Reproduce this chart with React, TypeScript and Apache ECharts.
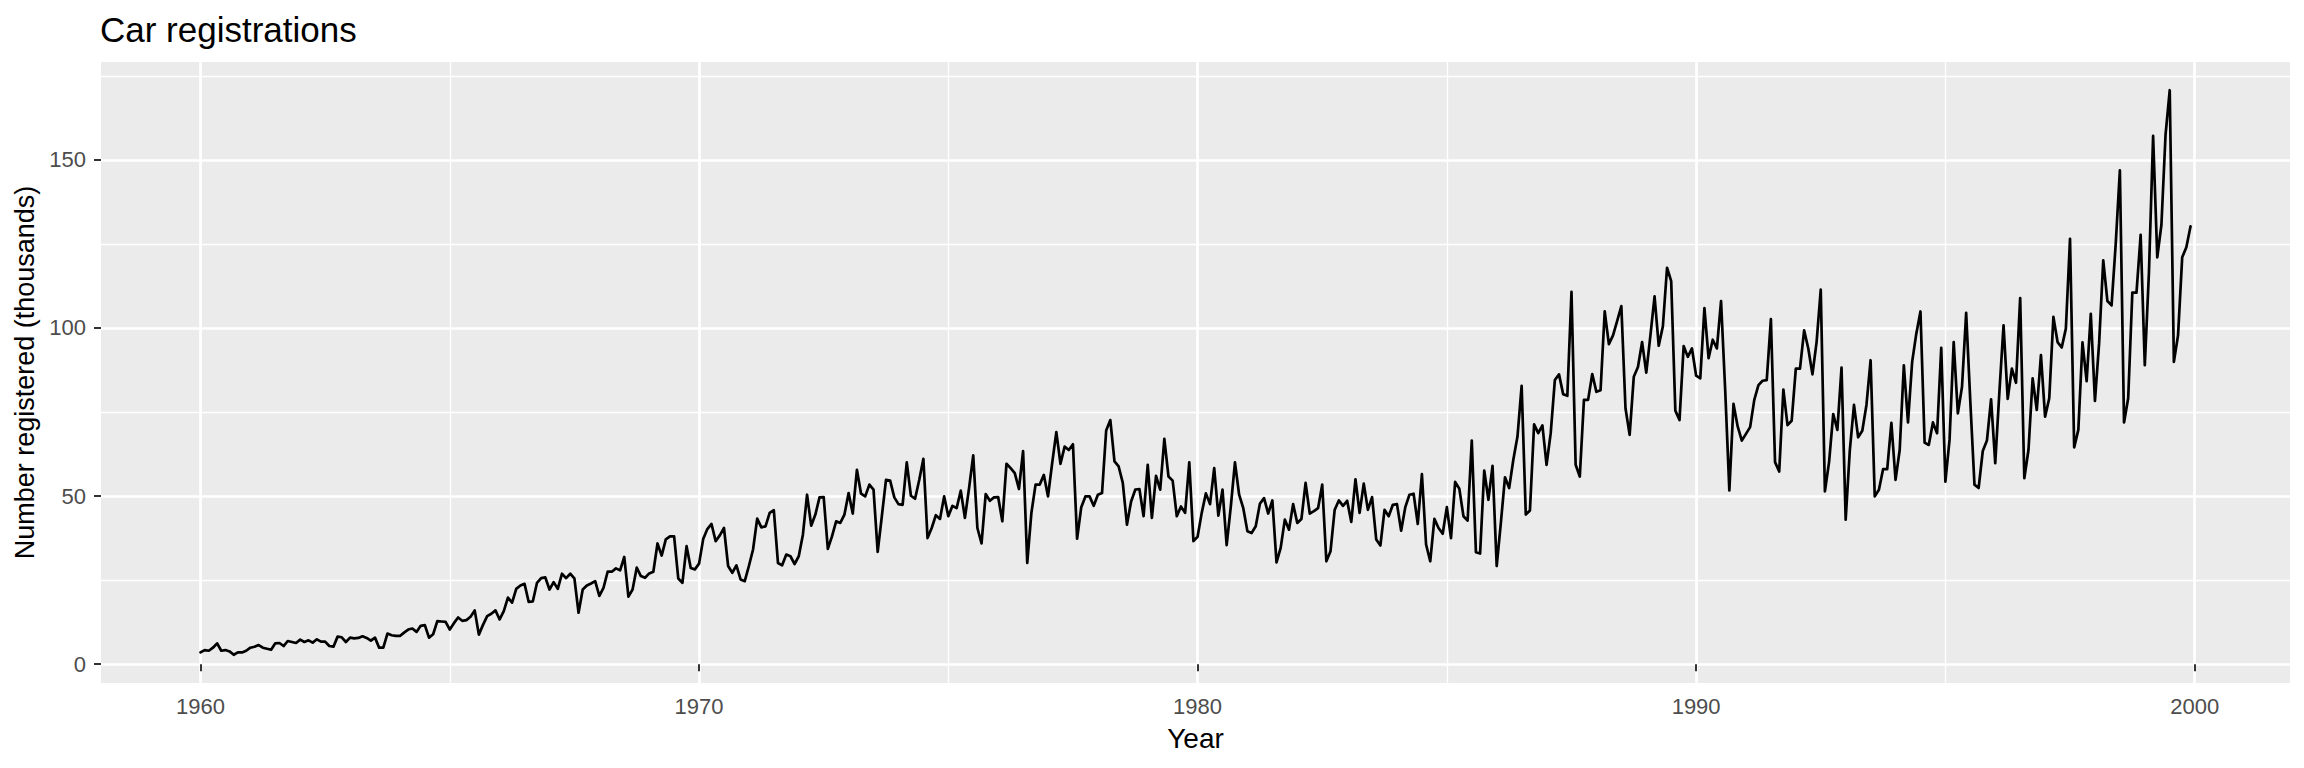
import React, { useEffect, useRef } from "react";
import * as echarts from "echarts";

const chartTitle = "Car registrations";
const xAxisTitle = "Year";
const yAxisTitle = "Number registered (thousands)";
const startYear = 1960;
const periodsPerYear = 12;
const xMajorBreaks = [1960, 1970, 1980, 1990, 2000];
const xMinorBreaks = [1965, 1975, 1985, 1995];
const yMajorBreaks = [0, 50, 100, 150];
const yMinorBreaks = [25, 75, 125, 175];

// Monthly registrations (thousands), January to December for each year
const regs1960s = [
  3.5, 4.2, 4.0, 4.9, 6.2, 4.0, 4.2, 3.8, 2.8, 3.5, 3.5, 4.0,
  4.9, 5.2, 5.7, 4.9, 4.6, 4.3, 6.2, 6.3, 5.4, 6.9, 6.6, 6.3,
  7.3, 6.6, 7.1, 6.4, 7.4, 6.7, 6.7, 5.4, 5.2, 8.2, 8.0, 6.6,
  7.9, 7.7, 7.8, 8.3, 7.8, 7.0, 7.9, 4.9, 4.9, 9.1, 8.6, 8.4,
  8.4, 9.4, 10.3, 10.6, 9.6, 11.4, 11.6, 7.9, 8.9, 12.8, 12.7, 12.6,
  10.3, 12.2, 13.9, 12.9, 13.1, 14.1, 16.0, 8.8, 11.7, 14.3, 15.0, 16.0,
  13.3, 15.8, 19.8, 18.3, 22.4, 23.4, 23.9, 18.5, 18.7, 24.2, 25.6, 25.8,
  22.2, 24.4, 22.4, 26.9, 25.6, 26.9, 25.5, 15.3, 22.2, 23.4, 24.0, 24.7,
  20.3, 22.7, 27.5, 27.5, 28.5, 27.9, 31.9, 20.1, 22.2, 28.7, 26.2, 25.7,
  27.0, 27.5, 35.9, 32.3, 37.1, 38.0, 38.0, 25.5, 24.2, 35.1, 28.6, 28.2,
];

const regs1970s = [
  29.9, 37.2, 40.2, 41.7, 36.6, 38.3, 40.5, 29.2, 27.2, 29.4, 25.2, 24.7,
  29.2, 34.1, 43.3, 40.7, 41.0, 45.0, 45.8, 30.1, 29.4, 32.6, 32.1, 29.8,
  32.1, 38.5, 50.4, 41.2, 44.5, 49.6, 49.7, 34.3, 38.0, 42.5, 42.0, 44.5,
  50.9, 44.8, 57.8, 50.7, 49.9, 53.4, 51.9, 33.4, 44.0, 54.8, 54.6, 49.6,
  47.6, 47.4, 60.0, 50.1, 49.2, 54.8, 61.1, 37.5, 40.5, 44.3, 43.2, 49.9,
  44.0, 47.1, 46.4, 51.6, 43.5, 52.4, 62.1, 40.5, 35.9, 50.6, 48.6, 49.6,
  49.7, 42.5, 59.6, 58.3, 56.8, 52.1, 63.4, 30.1, 45.0, 53.4, 53.4, 56.3,
  49.9, 59.8, 69.0, 59.6, 64.7, 63.7, 65.4, 37.3, 46.7, 49.9, 49.9, 47.1,
  50.4, 50.9, 69.5, 72.6, 60.3, 58.8, 53.9, 41.5, 48.4, 51.9, 52.1, 44.0,
  59.3, 43.5, 56.0, 51.9, 67.0, 55.8, 54.6, 44.0, 46.9, 45.0, 60.0, 36.6,
];

const regs1980s = [
  37.9, 45.0, 50.8, 47.6, 58.3, 44.2, 51.9, 35.4, 46.9, 60.0, 50.4, 46.4,
  39.5, 39.0, 41.0, 47.7, 49.4, 44.8, 48.7, 30.3, 34.6, 43.0, 40.0, 47.6,
  42.0, 43.2, 53.9, 44.8, 45.5, 46.4, 53.4, 30.6, 33.6, 45.9, 48.7, 47.1,
  48.6, 42.3, 55.0, 45.0, 53.7, 45.9, 49.7, 37.1, 35.3, 45.9, 44.0, 47.4,
  47.6, 39.7, 46.7, 50.4, 50.7, 41.7, 56.5, 35.6, 30.6, 43.2, 40.5, 38.8,
  46.7, 37.5, 54.2, 52.2, 44.0, 42.7, 66.5, 33.3, 32.9, 57.6, 48.9, 59.0,
  29.2, 42.0, 55.6, 52.4, 60.8, 67.7, 82.8, 44.5, 45.7, 71.3, 68.7, 71.0,
  59.3, 68.7, 84.5, 86.2, 80.3, 79.8, 110.7, 59.3, 55.8, 78.6, 78.6, 86.3,
  81.0, 81.5, 104.9, 95.2, 97.8, 102.1, 106.5, 76.1, 68.2, 85.5, 88.4, 95.8,
  86.7, 97.8, 109.4, 94.7, 100.5, 117.9, 113.9, 75.4, 72.6, 94.6, 91.4, 93.9,
];

const regs1990s = [
  85.8, 85.0, 105.9, 91.0, 96.5, 93.9, 108.0, 81.5, 51.7, 77.4, 70.7, 66.5,
  68.5, 70.5, 78.6, 83.0, 84.3, 84.5, 102.6, 60.1, 57.3, 81.7, 71.1, 72.4,
  87.9, 87.9, 99.3, 93.9, 86.2, 95.8, 111.4, 51.4, 60.1, 74.4, 69.7, 88.2,
  43.0, 63.7, 77.1, 67.5, 69.4, 77.1, 90.4, 49.9, 51.9, 58.0, 58.0, 71.8,
  54.8, 63.7, 88.9, 71.9, 89.9, 98.3, 104.9, 65.9, 65.2, 71.9, 68.7, 94.1,
  54.3, 66.7, 95.8, 74.6, 82.5, 104.5, 78.1, 53.4, 52.4, 63.4, 66.5, 78.8,
  59.8, 81.0, 100.8, 78.9, 87.9, 83.7, 108.9, 55.3, 63.7, 85.0, 75.6, 91.9,
  73.6, 79.1, 103.3, 95.8, 94.2, 99.8, 126.5, 64.5, 69.7, 95.7, 84.2, 104.2,
  78.3, 95.4, 120.1, 108.0, 106.7, 125.0, 146.9, 71.9, 79.1, 110.5, 110.5, 127.7,
  88.9, 116.6, 157.1, 121.0, 130.7, 157.6, 170.7, 89.9, 97.8, 121.0, 124.0, 130.2,
];

const registrations = [...regs1960s, ...regs1970s, ...regs1980s, ...regs1990s];
const points = registrations.map((v, i) => [startYear + i / periodsPerYear, v]);

// ggplot-style 5% expansion of the data range
function expand(arr: number[]): [number, number] {
  const lo = Math.min(...arr);
  const hi = Math.max(...arr);
  const pad = (hi - lo) * 0.05;
  return [lo - pad, hi + pad];
}
const [xLo, xHi] = expand(points.map((p) => p[0]));
const [yLo, yHi] = expand(registrations);

const FONT = "'Liberation Sans', Arial, Helvetica, sans-serif";
const GRID_BG = "#EBEBEB";
const MAJOR_W = 2.7;
const MINOR_W = 1.35;

export default function App() {
  const ref = useRef<HTMLDivElement>(null);

  useEffect(() => {
    if (!ref.current) return;
    const chart = echarts.init(ref.current, undefined, { renderer: "svg" });
    const option: any = {
      animation: false,
      textStyle: { fontFamily: FONT },
      title: {
        text: chartTitle,
        left: 100,
        top: 12,
        padding: 0,
        textStyle: { fontSize: 35, fontWeight: "normal", color: "#000000", fontFamily: FONT },
      },
      grid: {
        left: 101,
        right: 14,
        top: 62,
        bottom: 85,
        show: true,
        backgroundColor: GRID_BG,
        borderWidth: 0,
        containLabel: false,
      },
      xAxis: [
        {
          type: "value",
          min: xLo,
          max: xHi,
          position: "bottom",
          name: xAxisTitle,
          nameLocation: "middle",
          nameGap: 41,
          nameTextStyle: { fontSize: 28, color: "#000000", fontFamily: FONT },
          axisLine: { show: false },
          axisTick: {
            show: true,
            customValues: xMajorBreaks,
            length: 7,
            lineStyle: { color: "#333333", width: 2 },
          },
          axisLabel: {
            show: true,
            customValues: xMajorBreaks,
            color: "#4D4D4D",
            fontSize: 22,
            margin: 12,
            fontFamily: FONT,
            formatter: (v: number) => String(Math.round(v)),
          },
          splitLine: { show: true, lineStyle: { color: "#FFFFFF", width: MAJOR_W } },
        },
        {
          type: "value",
          min: xLo,
          max: xHi,
          position: "bottom",
          axisLine: { show: false },
          axisTick: { show: false, customValues: xMinorBreaks },
          axisLabel: { show: false, customValues: xMinorBreaks },
          splitLine: { show: true, lineStyle: { color: "#FFFFFF", width: MINOR_W } },
        },
      ],
      yAxis: [
        {
          type: "value",
          min: yLo,
          max: yHi,
          position: "left",
          name: yAxisTitle,
          nameLocation: "middle",
          nameGap: 59,
          nameRotate: 90,
          nameTextStyle: { fontSize: 27, color: "#000000", fontFamily: FONT },
          axisLine: { show: false },
          axisTick: {
            show: true,
            customValues: yMajorBreaks,
            length: 7,
            lineStyle: { color: "#333333", width: 2 },
          },
          axisLabel: {
            show: true,
            customValues: yMajorBreaks,
            color: "#4D4D4D",
            fontSize: 22,
            margin: 15,
            fontFamily: FONT,
            formatter: (v: number) => String(Math.round(v)),
          },
          splitLine: { show: true, lineStyle: { color: "#FFFFFF", width: MAJOR_W } },
        },
        {
          type: "value",
          min: yLo,
          max: yHi,
          position: "left",
          axisLine: { show: false },
          axisTick: { show: false, customValues: yMinorBreaks },
          axisLabel: { show: false, customValues: yMinorBreaks },
          splitLine: { show: true, lineStyle: { color: "#FFFFFF", width: MINOR_W } },
        },
      ],
      series: [
        {
          type: "line",
          xAxisIndex: 0,
          yAxisIndex: 0,
          data: points,
          symbol: "none",
          showSymbol: false,
          silent: true,
          clip: true,
          z: 3,
          emphasis: { disabled: true },
          lineStyle: { color: "#000000", width: 2.7, join: "round", cap: "round" },
        },
      ],
    };
    chart.setOption(option);
    return () => chart.dispose();
  }, []);

  return (
    <div
      ref={ref}
      style={{ position: "absolute", left: 0, top: 0, width: 2304, height: 768, background: "#FFFFFF" }}
    />
  );
}
